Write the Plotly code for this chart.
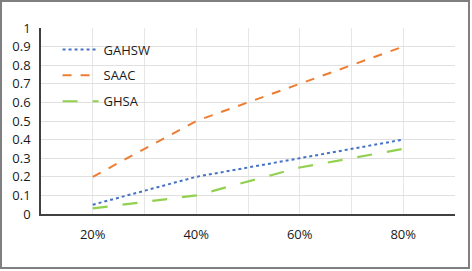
import plotly.graph_objects as go

categories = ["20%", "40%", "60%", "80%"]
gahsw = [0.05, 0.2, 0.3, 0.4]
saac = [0.2, 0.5, 0.7, 0.9]
ghsa = [0.03, 0.1, 0.25, 0.35]
y_ticks = [0, 0.1, 0.2, 0.3, 0.4, 0.5, 0.6, 0.7, 0.8, 0.9, 1]
y_labels = ["0", "0.1", "0.2", "0.3", "0.4", "0.5", "0.6", "0.7", "0.8", "0.9", "1"]

xpos = list(range(len(categories)))

fig = go.Figure()
fig.add_trace(go.Scatter(x=xpos, y=gahsw, name="GAHSW", mode="lines", legendgroup="a",
                         line=dict(color="#4472C4", width=2, dash="dot")))
fig.add_trace(go.Scatter(x=xpos, y=saac, name="SAAC", mode="lines", legendgroup="b",
                         line=dict(color="#ED7D31", width=2, dash="dash")))
fig.add_trace(go.Scatter(x=xpos, y=ghsa, name="GHSA", mode="lines", legendgroup="c",
                         line=dict(color="#92D050", width=2.2, dash="longdash")))

L, R, T, B = 41, 17, 28, 57
W, H = 472, 271
pw, ph = W - L - R, H - T - B

fig.update_layout(
    width=W, height=H,
    margin=dict(l=L, r=R, t=T, b=B),
    paper_bgcolor="white", plot_bgcolor="white",
    font=dict(family="Open Sans, Noto Sans, sans-serif", size=13, color="#1a1a1a"),
    showlegend=True,
    legend=dict(x=0.04, y=0.965, xanchor="left", yanchor="top", bgcolor="rgba(0,0,0,0)",
                font=dict(size=13), tracegroupgap=6, itemwidth=36),
    xaxis=dict(range=[-0.5, len(categories) - 0.5], tickvals=xpos, ticktext=categories,
               showgrid=True, gridcolor="#E6E6E6", gridwidth=1,
               minor=dict(tickvals=[i - 0.5 for i in range(len(categories) + 1)],
                          showgrid=True, gridcolor="#E6E6E6", gridwidth=1),
               showline=True, linecolor="#404040", linewidth=1.5,
               ticks="", zeroline=False, ticklabelstandoff=8),
    yaxis=dict(range=[0, 1], tickvals=y_ticks, ticktext=y_labels,
               showgrid=True, gridcolor="#E0E0E0", gridwidth=1,
               showline=True, linecolor="#404040", linewidth=1.5,
               ticks="", zeroline=False, ticklabelstandoff=6),
)

fig.add_shape(type="rect", xref="paper", yref="paper",
              x0=(1 - L) / pw, x1=(W - 3 - L) / pw,
              y0=(T + ph - (H - 3)) / ph, y1=(T + ph - 1) / ph,
              line=dict(color="#7F7F7F", width=2), layer="above")

fig.write_html("out.html", config={"displayModeBar": False},
               post_script="document.body.style.margin='0';")
